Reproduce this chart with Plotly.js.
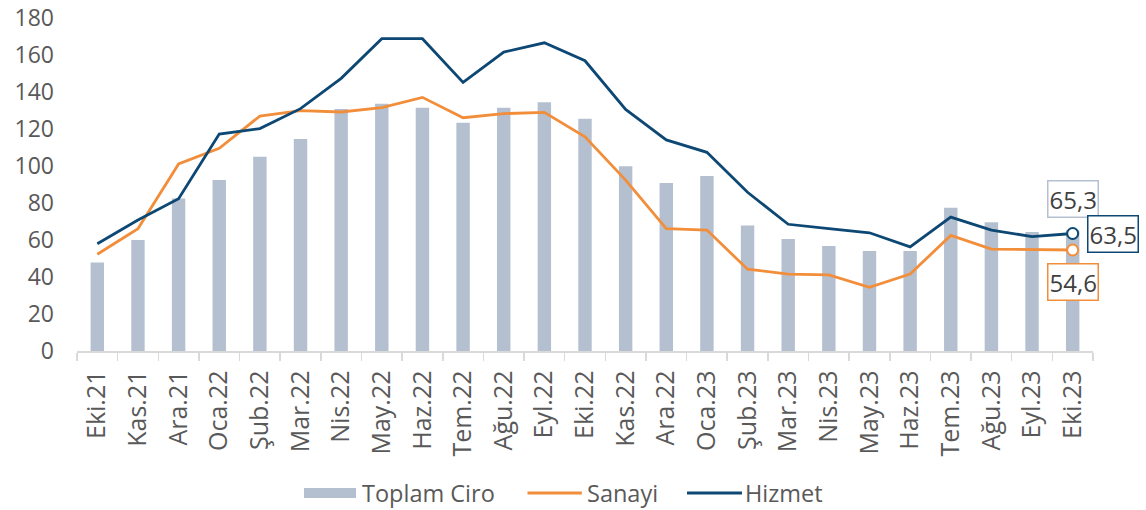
<!DOCTYPE html>
<html>
<head>
<meta charset="utf-8">
<script src="https://cdn.plot.ly/plotly-3.0.1.min.js"></script>
<style>html,body{margin:0;padding:0;background:#fff;}#chart{width:1146px;height:510px;}</style>
</head>
<body>
<div id="chart"></div>
<script>
const categories = ["Eki.21","Kas.21","Ara.21","Oca.22","Şub.22","Mar.22","Nis.22","May.22","Haz.22","Tem.22","Ağu.22","Eyl.22","Eki.22","Kas.22","Ara.22","Oca.23","Şub.23","Mar.23","Nis.23","May.23","Haz.23","Tem.23","Ağu.23","Eyl.23","Eki.23"];
const toplamCiro = [47.9,60.0,82.5,92.4,105.0,114.6,130.8,133.7,131.5,123.4,131.5,134.4,125.6,99.8,90.8,94.6,67.9,60.5,56.8,54.1,54.1,77.5,69.6,64.3,65.3];
const sanayi = [52.3,66.1,101.1,109.6,127.0,129.9,129.2,131.5,137.1,126.1,128.3,129.0,115.8,92.4,66.1,65.4,44.2,41.6,41.1,34.4,41.6,62.5,55.1,55.0,54.6];
const hizmet = [58.0,70.8,82.3,117.3,120.2,131.0,147.4,168.8,168.8,145.2,161.6,166.6,156.9,130.6,114.1,107.4,85.8,68.5,66.1,63.9,56.3,72.4,65.4,61.8,63.5];
const yTicks = [0,20,40,60,80,100,120,140,160,180];
const seriesNames = ["Toplam Ciro","Sanayi","Hizmet"];
const lastLabels = ["65,3","54,6","63,5"];

const FONT = "Open Sans, Noto Sans, sans-serif";
const GRAY = "#595959";
const BARC = "#B4C0D0";
const ORANGE = "#F28E3A";
const NAVY = "#0D4874";
const last = categories.length - 1;

const traces = [
  {type:"bar", x:categories, y:toplamCiro, name:seriesNames[0], marker:{color:BARC}, hoverinfo:"skip"},
  {type:"scatter", mode:"lines", x:categories, y:sanayi, name:seriesNames[1], line:{color:ORANGE, width:2.8}, hoverinfo:"skip"},
  {type:"scatter", mode:"lines", x:categories, y:hizmet, name:seriesNames[2], line:{color:NAVY, width:2.8}, hoverinfo:"skip"},
  {type:"scatter", mode:"markers", x:[categories[last]], y:[hizmet[last]], marker:{size:11, color:"#fff", line:{color:NAVY, width:2}}, hoverinfo:"skip"},
  {type:"scatter", mode:"markers", x:[categories[last]], y:[sanayi[last]], marker:{size:11, color:"#fff", line:{color:ORANGE, width:2}}, hoverinfo:"skip"}
];

// custom legend (paper coordinates; plot area spans x 77..1093, y 18..351 px)
const LY = -0.4264;
const legFont = {family:FONT, size:23.5, color:GRAY};
const shapes = [
  {type:"rect", xref:"paper", yref:"paper", x0:0.2234, x1:0.2746, y0:-0.4414, y1:-0.4114, fillcolor:BARC, line:{width:0}},
  {type:"line", xref:"paper", yref:"paper", x0:0.4434, x1:0.4969, y0:LY, y1:LY, line:{color:ORANGE, width:2.8}},
  {type:"line", xref:"paper", yref:"paper", x0:0.6004, x1:0.6545, y0:LY, y1:LY, line:{color:NAVY, width:2.8}}
];

const annFont = {family:FONT, size:24, color:"#404040"};
const annotations = [
  {xref:"paper", yref:"paper", x:0.2785, y:LY, xanchor:"left", yanchor:"middle", text:seriesNames[0], showarrow:false, font:legFont},
  {xref:"paper", yref:"paper", x:0.5000, y:LY, xanchor:"left", yanchor:"middle", text:seriesNames[1], showarrow:false, font:legFont},
  {xref:"paper", yref:"paper", x:0.6555, y:LY, xanchor:"left", yanchor:"middle", text:seriesNames[2], showarrow:false, font:legFont},
  {x:categories[last], y:toplamCiro[last], xref:"x", yref:"y", text:lastLabels[0], showarrow:false,
   yanchor:"bottom", yshift:12, font:annFont, bordercolor:BARC, borderwidth:1.5, borderpad:1, bgcolor:"#fff"},
  {x:categories[last], y:hizmet[last], xref:"x", yref:"y", text:lastLabels[2], showarrow:false,
   xanchor:"left", xshift:14, font:annFont, bordercolor:NAVY, borderwidth:1.5, borderpad:1, bgcolor:"#fff"},
  {x:categories[last], y:sanayi[last], xref:"x", yref:"y", text:lastLabels[1], showarrow:false,
   yanchor:"top", yshift:-13, font:annFont, bordercolor:ORANGE, borderwidth:1.5, borderpad:1, bgcolor:"#fff"}
];

const layout = {
  width:1146, height:510,
  margin:{l:77, r:53, t:18, b:159},
  paper_bgcolor:"#fff", plot_bgcolor:"#fff",
  font:{family:FONT, color:GRAY, size:23},
  bargap:0.67,
  showlegend:false,
  xaxis:{
    type:"category", tickangle:-90, tickfont:{family:FONT, size:25, color:GRAY},
    showline:true, linecolor:"#D9D9D9", linewidth:1.5,
    ticks:"outside", tickson:"boundaries", ticklen:8, tickcolor:"#D9D9D9", tickwidth:1.5,
    showgrid:false, zeroline:false, ticklabelstandoff:8,
    range:[-0.5, last+0.5]
  },
  yaxis:{
    range:[0,180], tickvals:yTicks, ticktext:yTicks.map(String),
    tickfont:{family:FONT, size:23, color:GRAY},
    showgrid:false, zeroline:false, showline:false, ticks:"", ticklabelstandoff:22
  },
  shapes:shapes,
  annotations:annotations
};

Plotly.newPlot("chart", traces, layout, {displayModeBar:false, staticPlot:true});
</script>
</body>
</html>
